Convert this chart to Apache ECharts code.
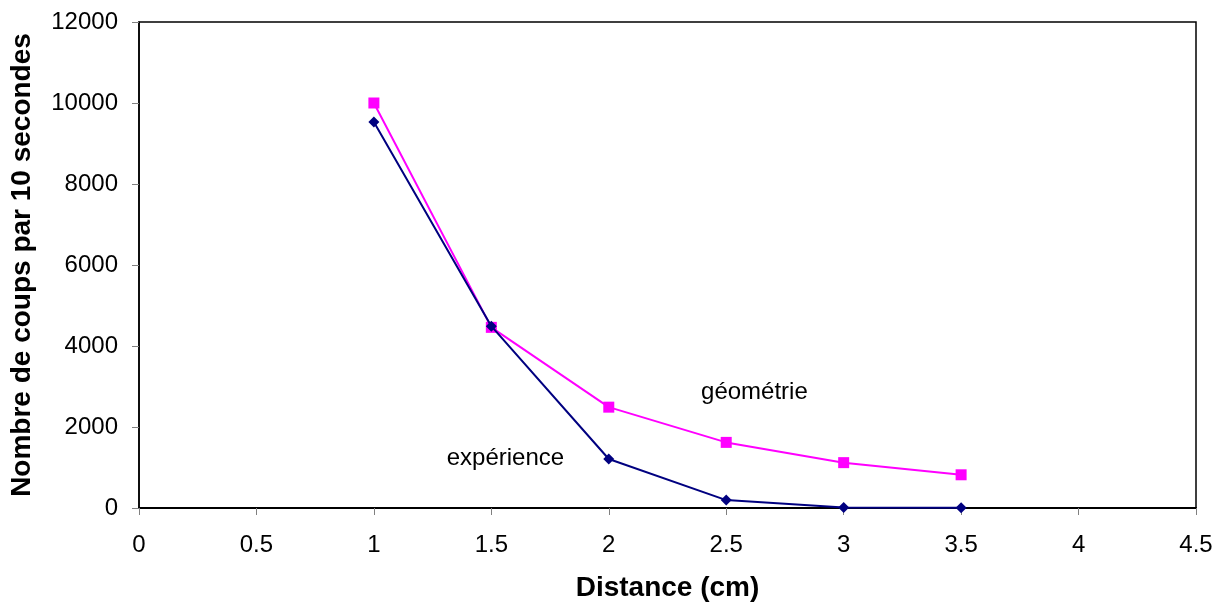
<!DOCTYPE html>
<html>
<head>
<meta charset="utf-8">
<script src="https://cdn.jsdelivr.net/npm/echarts@6/dist/echarts.min.js"></script>
<style>
  html, body { margin: 0; padding: 0; background: #fff; }
  #chart { width: 1215px; height: 603px; }
</style>
</head>
<body>
<div id="chart"></div>
<script>
// distances (cm)
var distances = [1, 1.5, 2, 2.5, 3, 3.5];
// counts per 10 seconds
var geometrie = [10000, 4460, 2490, 1620, 1120, 820];
var experience = [9530, 4490, 1210, 195, 10, 5];
var seriesNames = ["géométrie", "expérience"];
// where the curve labels sit (data coords)
var labelPos = [[2.62, 2860], [1.56, 1235]];

var myChart = echarts.init(document.getElementById("chart"));
var font = "Liberation Sans, Arial, sans-serif";

function pairs(vals) {
    return distances.map(function (d, i) { return [d, vals[i]]; });
}

var option = {
    backgroundColor: "#fff",
    animation: false,
    grid: {
        left: 139,
        top: 22,
        right: 19,
        bottom: 95,
        containLabel: false,
        outerBoundsMode: "none",
        show: true,
        borderColor: "#000",
        borderWidth: 1.5
    },
    xAxis: {
        type: "value",
        min: 0,
        max: 4.5,
        interval: 0.5,
        name: "Distance (cm)",
        nameLocation: "middle",
        nameGap: 66,
        nameTextStyle: { fontFamily: font, fontSize: 28, fontWeight: "bold", color: "#000" },
        axisLine: { lineStyle: { color: "#000", width: 2 } },
        axisTick: { show: true, length: 7, lineStyle: { color: "#808080" } },
        axisLabel: { fontFamily: font, fontSize: 24, color: "#000", margin: 25 },
        splitLine: { show: false }
    },
    yAxis: {
        type: "value",
        min: 0,
        max: 12000,
        interval: 2000,
        name: "Nombre de coups par 10 secondes",
        nameLocation: "middle",
        nameGap: 103,
        nameTextStyle: { fontFamily: font, fontSize: 28, fontWeight: "bold", color: "#000" },
        axisLine: { show: true, lineStyle: { color: "#000", width: 1.5 } },
        axisTick: { show: true, length: 7, lineStyle: { color: "#808080" } },
        axisLabel: {
            fontFamily: font, fontSize: 24, color: "#000", margin: 21,
            formatter: function (v) { return String(v); }
        },
        splitLine: { show: false }
    },
    series: [
        {
            name: seriesNames[0],
            type: "line",
            data: pairs(geometrie),
            symbol: "rect",
            symbolSize: 11,
            lineStyle: { color: "#ff00ff", width: 2 },
            itemStyle: { color: "#ff00ff" },
            z: 2
        },
        {
            name: seriesNames[1],
            type: "line",
            data: pairs(experience),
            symbol: "diamond",
            symbolSize: 11,
            lineStyle: { color: "#000080", width: 2 },
            itemStyle: { color: "#000080" },
            z: 3
        },
        {
            // curve labels
            type: "scatter",
            data: labelPos.map(function (p, i) { return { value: p, name: seriesNames[i] }; }),
            symbolSize: 1,
            itemStyle: { color: "rgba(0,0,0,0)" },
            label: {
                show: true,
                position: "inside",
                formatter: "{b}",
                color: "#000",
                opacity: 1,
                fontFamily: font,
                fontSize: 24
            },
            silent: true,
            z: 4
        }
    ]
};

myChart.setOption(option);
window.addEventListener("resize", function () {
    myChart.resize();
});
</script>
</body>
</html>
